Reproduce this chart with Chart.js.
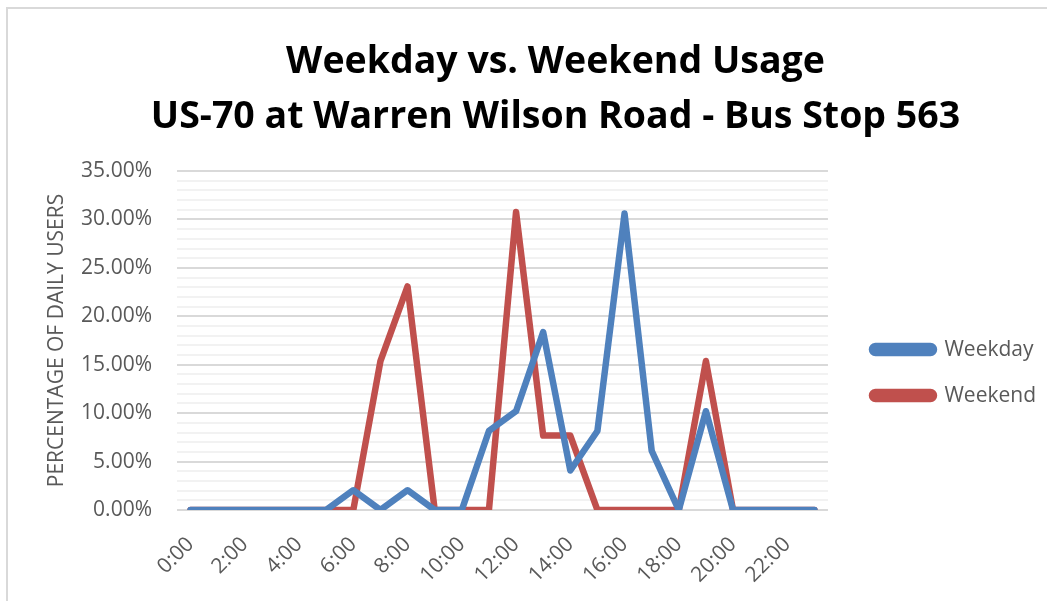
<!DOCTYPE html>
<html>
<head>
<meta charset="utf-8">
<script src="https://cdn.jsdelivr.net/npm/chart.js@4/dist/chart.umd.min.js"></script>
<style>
  html, body { margin: 0; padding: 0; background: #fff; overflow: hidden; }
  #frame { position: absolute; left: 6px; top: 7px; width: 1200px; height: 800px; border: 2px solid #d9d9d9; }
  #wrap { position: absolute; left: 0; top: 0; width: 1047px; height: 601px; }
</style>
</head>
<body>
<div id="frame"></div>
<div id="wrap"><canvas id="myChart" width="1047" height="601"></canvas></div>
<script>
// hours of the day
var hours = ["0:00","1:00","2:00","3:00","4:00","5:00","6:00","7:00","8:00","9:00","10:00","11:00",
             "12:00","13:00","14:00","15:00","16:00","17:00","18:00","19:00","20:00","21:00","22:00","23:00"];

// percent of daily users
var weekday = [0, 0, 0, 0, 0, 0, 2.04, 0, 2.04, 0, 0, 8.16,
               10.20, 18.37, 4.08, 8.16, 30.61, 6.12, 0, 10.20, 0, 0, 0, 0];
var weekend = [0, 0, 0, 0, 0, 0, 0, 15.38, 23.08, 0, 0, 0,
               30.77, 7.69, 7.69, 0, 0, 0, 0, 15.38, 0, 0, 0, 0];

var titleLines = ["Weekday vs. Weekend Usage", "US-70 at Warren Wilson Road - Bus Stop 563"];
var yTitle = "PERCENTAGE OF DAILY USERS";

var FONT = "'Open Sans', 'Liberation Sans', sans-serif";
var GREY = "#595959";

var config = {
	type: 'line',
	data: {
		labels: hours,
		datasets: [{
			label: 'Weekday',
			data: weekday,
			borderColor: '#4F81BD',
			backgroundColor: '#4F81BD',
			borderWidth: 6.5,
			pointRadius: 0,
			borderJoinStyle: 'round',
			borderCapStyle: 'round',
			fill: false
		}, {
			label: 'Weekend',
			data: weekend,
			borderColor: '#C0504D',
			backgroundColor: '#C0504D',
			borderWidth: 6.5,
			pointRadius: 0,
			borderJoinStyle: 'round',
			borderCapStyle: 'round',
			fill: false
		}]
	},
	options: {
		responsive: false,
		animation: false,
		layout: { padding: { left: 65, right: 1, top: 35, bottom: 0 } },
		plugins: {
			title: {
				display: true,
				text: titleLines,
				color: '#000',
				font: { family: FONT, size: 37.5, weight: 'bold', lineHeight: 1.467 },
				padding: { top: 0, bottom: 26 }
			},
			legend: {
				position: 'right',
				align: 'center',
				maxWidth: 400,
				// empty title only pushes the items down like in the original
				title: { display: true, text: ' ', font: { family: FONT, size: 21 }, padding: 42 },
				labels: {
					boxWidth: 62,
					boxHeight: 7,
					useBorderRadius: true,
					borderRadius: 3.5,
					color: GREY,
					padding: 25,
					font: { family: FONT, size: 21 }
				}
			},
			tooltip: { enabled: false }
		},
		scales: {
			x: {
				offset: true,
				grid: { display: false, drawTicks: false },
				border: { display: false },
				afterFit: function(s) { s.height = 91; },
				ticks: {
					autoSkip: false,
					minRotation: 45,
					maxRotation: 45,
					color: GREY,
					padding: 22,
					font: { family: FONT, size: 21 },
					callback: function(val, i) { return i % 2 === 0 ? hours[i] : ''; }
				}
			},
			y: {
				min: 0,
				max: 35,
				border: { display: false },
				afterFit: function(s) { s.width = 112; },
				grid: {
					drawTicks: false,
					color: function(c) { return c.tick.value % 5 === 0 ? '#d9d9d9' : '#f2f2f2'; },
					lineWidth: 2
				},
				title: {
					display: true,
					text: yTitle,
					color: GREY,
					padding: { top: -21, bottom: 0 },
					font: { family: FONT, size: 21 }
				},
				ticks: {
					stepSize: 1,
					autoSkip: false,
					color: GREY,
					padding: 25,
					font: { family: FONT, size: 21 },
					callback: function(v) { return v % 5 === 0 ? v.toFixed(2) + '%' : ''; }
				}
			},
			// blank axis on the right, only keeps a gap before the legend
			gap: {
				type: 'linear',
				position: 'right',
				display: true,
				grid: { display: false, drawTicks: false },
				border: { display: false },
				ticks: { display: false },
				afterFit: function(s) { s.width = 19; }
			}
		}
	}
};

var ctx = document.getElementById('myChart').getContext('2d');
window.myLine = new Chart(ctx, config);
</script>
</body>
</html>
